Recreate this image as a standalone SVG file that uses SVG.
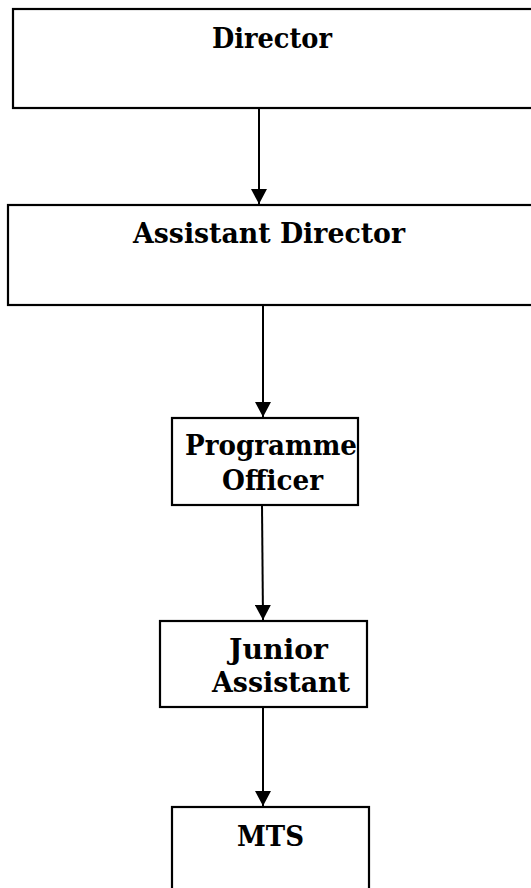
<svg xmlns="http://www.w3.org/2000/svg" width="531" height="888" viewBox="0 0 531 888">
<defs>
<style>
.box{fill:#fff;stroke:#000;stroke-width:2.2}
.lbl{font-family:"DejaVu Serif","Liberation Serif",serif;font-weight:bold;font-size:27.5px;fill:#000;text-anchor:middle}
.con{stroke:#000;stroke-width:2;fill:none}
</style>
<marker id="ah" markerUnits="userSpaceOnUse" markerWidth="16" markerHeight="16" viewBox="0 0 16 16" refX="15" refY="8" orient="auto">
<path d="M0,0 L15,8 L0,16 Z" fill="#000"/>
</marker>
</defs>
<rect width="531" height="888" fill="#fff"/>
<g id="director">
<rect class="box" x="13" y="9" width="530" height="99"/>
<text class="lbl" x="272" y="48" textLength="120" lengthAdjust="spacingAndGlyphs">Director</text>
</g>
<g id="assistant-director">
<rect class="box" x="8" y="205" width="535" height="100"/>
<text class="lbl" x="269" y="243" textLength="272" lengthAdjust="spacingAndGlyphs">Assistant Director</text>
</g>
<g id="programme-officer">
<rect class="box" x="172" y="418" width="186" height="87"/>
<text class="lbl" x="271" y="455" textLength="172" lengthAdjust="spacingAndGlyphs">Programme</text>
<text class="lbl" x="272.5" y="490" textLength="101" lengthAdjust="spacingAndGlyphs">Officer</text>
</g>
<g id="junior-assistant">
<rect class="box" x="160" y="621" width="207" height="86"/>
<text class="lbl" x="278.5" y="659" textLength="99" lengthAdjust="spacingAndGlyphs">Junior</text>
<text class="lbl" x="281" y="692" textLength="138" lengthAdjust="spacingAndGlyphs">Assistant</text>
</g>
<g id="mts">
<rect class="box" x="172" y="807" width="197" height="100"/>
<text class="lbl" x="270.5" y="846" textLength="67" lengthAdjust="spacingAndGlyphs">MTS</text>
</g>
<g id="connectors">
<line class="con" x1="259" y1="108" x2="259" y2="204" marker-end="url(#ah)"/>
<line class="con" x1="263" y1="305" x2="263" y2="417" marker-end="url(#ah)"/>
<line class="con" x1="262" y1="505" x2="263" y2="620" marker-end="url(#ah)"/>
<line class="con" x1="263" y1="707" x2="263" y2="806" marker-end="url(#ah)"/>
</g>
</svg>
